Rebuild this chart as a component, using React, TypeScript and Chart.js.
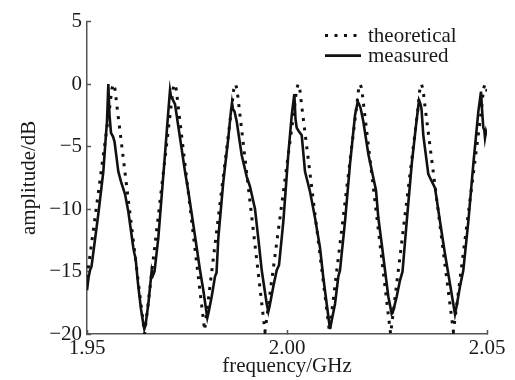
import React, { useEffect, useRef } from "react";
import { Chart, registerables } from "chart.js";

Chart.register(...registerables);

// ---- data ----
const seriesLabels = ["theoretical", "measured"];
const xTitle = "frequency/GHz";
const yTitle = "amplitude/dB";
const xTickValues = [1.95, 2.0, 2.05];
const yTickValues = [5, 0, -5, -10, -15, -20];

const theoFreq = [
  1.95, 1.9557, 1.9562, 1.9566, 1.957, 1.9575,
  1.9644, 1.971, 1.9715, 1.9719, 1.9723, 1.9728,
  1.9794, 1.9862, 1.9867, 1.9871, 1.9875, 1.988,
  1.9945, 2.0019, 2.0024, 2.0028, 2.0032, 2.0037,
  2.0106, 2.0174, 2.0179, 2.0183, 2.0187, 2.0192,
  2.0259, 2.0328, 2.0332, 2.0336, 2.034, 2.0345,
  2.0416, 2.0487, 2.0491, 2.0495, 2.0499, 2.05,
];
const theoAmp = [
  -15.5, -1.8, -0.4, 0, -0.4, -1.8,
  -20, -1.8, -0.4, 0, -0.4, -1.8,
  -19.7, -1.8, -0.4, 0, -0.4, -1.8,
  -19.8, -1.8, -0.4, 0, -0.4, -1.8,
  -19.8, -1.8, -0.4, 0, -0.4, -1.8,
  -20, -1.8, -0.4, 0, -0.4, -1.8,
  -19.8, -1.8, -0.4, 0, -0.4, -0.6,
];

const measFreq = [
  1.95, 1.95038, 1.95075, 1.95113, 1.95283, 1.95408, 1.95468, 1.955, 1.95533,
  1.95563, 1.956, 1.9565, 1.95688, 1.95783, 1.9585, 1.9595, 1.96033, 1.96158,
  1.96188, 1.96213, 1.96283, 1.9635, 1.96408, 1.96433, 1.96463, 1.96533, 1.96618,
  1.9665, 1.96688, 1.96783, 1.9695, 1.97025, 1.97075, 1.971, 1.97138, 1.972,
  1.97325, 1.9745, 1.97533, 1.97618, 1.97743, 1.97825, 1.97908, 1.97993, 1.98008,
  1.98038, 1.98118, 1.982, 1.98238, 1.98283, 1.98408, 1.98533, 1.98588, 1.98625,
  1.9865, 1.98688, 1.98743, 1.98868, 1.98993, 1.99075, 1.992, 1.99288, 1.99368,
  1.99493, 1.99533, 1.99563, 1.99658, 1.99743, 1.998, 1.99908, 2.00033, 2.00118,
  2.00183, 2.00213, 2.00243, 2.003, 2.00368, 2.0045, 2.00575, 2.007, 2.00825,
  2.00908, 2.00993, 2.0105, 2.01075, 2.011, 2.012, 2.01283, 2.01325, 2.0145,
  2.01575, 2.017, 2.01768, 2.018, 2.01838, 2.01908, 2.02033, 2.02158, 2.02225,
  2.02283, 2.02368, 2.0245, 2.02533, 2.02618, 2.02643, 2.02675, 2.02743, 2.02825,
  2.02888, 2.02993, 2.03118, 2.03225, 2.033, 2.03338, 2.03363, 2.03408, 2.03533,
  2.03575, 2.037, 2.03825, 2.0395, 2.04075, 2.04158, 2.042, 2.04238, 2.04325,
  2.04408, 2.04533, 2.04658, 2.04783, 2.0485, 2.04875, 2.04908, 2.04933, 2.0495,
  2.04975, 2.05,
];
const measAmp = [
  -16.5, -15.5, -14.9, -14.6, -10.4, -7, -4.3, -3, 0,
  -2.5, -3.9, -4.2, -4.6, -7, -7.8, -8.8, -10.2, -13.1,
  -13.6, -13.9, -16.2, -18, -19.2, -19.6, -19.3, -17.6, -14.9,
  -15.3, -15, -12.3, -5.6, -2.5, -0.5, -1.0, -1.2, -1.6,
  -4.3, -7, -8.6, -10.4, -13.1, -14.9, -16.5, -18.4, -18.7,
  -18.3, -17, -15.4, -15.1, -12.3, -7.8, -4.3, -2.5, -1.5,
  -2.0, -2.2, -3, -5.7, -7.4, -8.2, -10, -12.5, -14.9,
  -17.6, -18.2, -17.8, -16.2, -14.9, -14.5, -11, -5.6, -2.5,
  -0.8, -2.8, -3.5, -3.8, -4.1, -7, -8.6, -10.7, -13.1,
  -15.5, -17.6, -19, -19.6, -19.2, -17.6, -15.4, -14.9, -11,
  -6.4, -2.5, -1.4, -1.6, -1.9, -3, -5.6, -7.5, -8.5,
  -10.7, -12.8, -14.9, -17, -18.4, -18.3, -17.9, -17, -15.7,
  -15, -11, -6.4, -3.3, -1.3, -1.6, -2, -4.1, -7.2,
  -7.5, -8.3, -11, -13.6, -16, -17.6, -18.4, -17.8, -16.2,
  -14.9, -11, -6.4, -2.2, -0.6, -2.0, -3.5, -3.7, -4.3,
  -3.8, -4.1,
];

const FONT = '"Liberation Serif", "Times New Roman", serif';
const INK = "#1a1a1a";
const AXIS = "#555";

const cornerLegend = {
  id: "cornerLegend",
  afterDraw(chart: any) {
    const { ctx, chartArea } = chart;
    ctx.save();
    chart.data.datasets.forEach((ds: any, i: number) => {
      const y = chartArea.top + 14 + i * 20;
      const x0 = chartArea.right - 162;
      ctx.beginPath();
      ctx.setLineDash(ds.borderDash || []);
      ctx.lineWidth = ds.borderWidth;
      ctx.strokeStyle = ds.borderColor;
      ctx.moveTo(x0, y);
      ctx.lineTo(x0 + 36, y);
      ctx.stroke();
      ctx.setLineDash([]);
      ctx.fillStyle = INK;
      ctx.font = `21px ${FONT}`;
      ctx.textAlign = "left";
      ctx.textBaseline = "middle";
      ctx.fillText(ds.label, x0 + 43, y + 1);
    });
    ctx.restore();
  },
};

export default function App() {
  const ref = useRef<HTMLCanvasElement | null>(null);

  useEffect(() => {
    if (!ref.current) return;
    const font = { family: FONT, size: 21 };
    const chart = new Chart(ref.current, {
      type: "line",
      data: {
        datasets: [
          {
            label: seriesLabels[0],
            data: theoFreq.map((f, i) => ({ x: f, y: theoAmp[i] })),
            borderColor: "#111",
            borderWidth: 3,
            borderDash: [3, 6.5],
            pointRadius: 0,
            tension: 0,
            fill: false,
          },
          {
            label: seriesLabels[1],
            data: measFreq.map((f, i) => ({ x: f, y: measAmp[i] })),
            borderColor: "#111",
            borderWidth: 2.6,
            pointRadius: 0,
            tension: 0,
            fill: false,
          },
        ],
      },
      options: {
        responsive: false,
        animation: false,
        layout: { padding: { top: 19, right: 28, left: 0, bottom: 0 } },
        plugins: {
          legend: { display: false },
          tooltip: { enabled: false },
        },
        scales: {
          x: {
            type: "linear",
            min: 1.95,
            max: 2.05,
            afterBuildTicks: (s: any) => {
              s.ticks = xTickValues.map((v) => ({ value: v }));
            },
            afterFit: (s: any) => {
              s.height = 46;
            },
            ticks: {
              font,
              color: INK,
              padding: 6,
              maxRotation: 0,
              autoSkip: false,
              callback: (v: any) => Number(v).toFixed(2),
            },
            grid: {
              display: true,
              drawOnChartArea: false,
              drawTicks: true,
              tickLength: -4,
              tickColor: AXIS,
              tickWidth: 1.5,
            },
            border: { display: true, color: AXIS, width: 1.5 },
            title: {
              display: true,
              text: xTitle,
              font,
              color: INK,
              padding: { top: 0, bottom: 1 },
            },
          },
          y: {
            type: "linear",
            min: -20,
            max: 5,
            afterBuildTicks: (s: any) => {
              s.ticks = yTickValues.map((v) => ({ value: v }));
            },
            afterFit: (s: any) => {
              s.width = 87;
            },
            ticks: {
              font,
              color: INK,
              padding: 9,
              callback: (v: any) =>
                Number(v) < 0 ? "\u2212" + Math.abs(Number(v)) : String(v),
            },
            grid: {
              display: true,
              drawOnChartArea: false,
              drawTicks: true,
              tickLength: -4,
              tickColor: AXIS,
              tickWidth: 1.5,
            },
            border: { display: true, color: AXIS, width: 1.5 },
            title: {
              display: true,
              text: yTitle,
              font,
              color: INK,
              padding: { top: 17, bottom: 0 },
            },
          },
        },
      },
      plugins: [cornerLegend],
    } as any);
    return () => chart.destroy();
  }, []);

  return (
    <div style={{ position: "fixed", left: 0, top: 0, width: 515, height: 380, background: "#fff" }}>
      <canvas ref={ref} width={515} height={380} style={{ display: "block" }} />
    </div>
  );
}
